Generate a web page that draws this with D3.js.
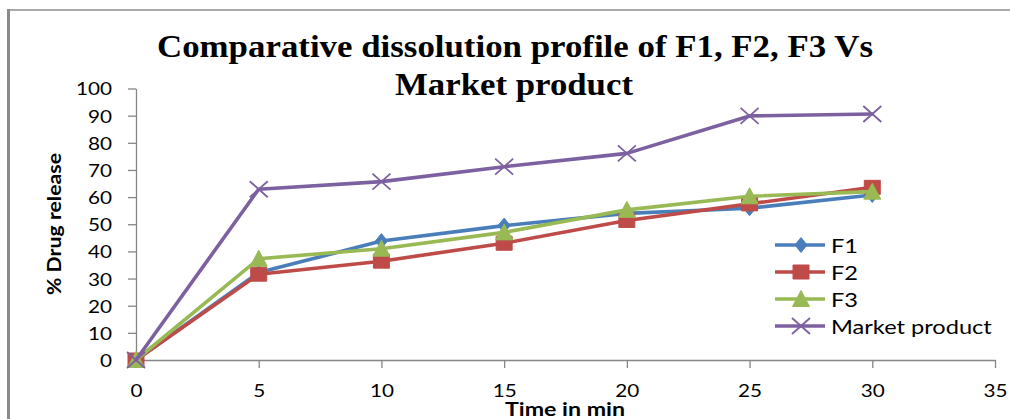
<!DOCTYPE html>
<html>
<head>
<meta charset="utf-8">
<script src="https://cdn.jsdelivr.net/npm/d3@7"></script>
<style>
  html, body { margin: 0; padding: 0; background: #fff; }
  svg { display: block; }
</style>
</head>
<body>
<svg id="chart" width="1010" height="419"></svg>
<script>
// Dissolution time points (min)
const times = [0, 5, 10, 15, 20, 25, 30];

// % drug release per formulation
const f1 = [0, 32.2, 43.8, 49.5, 54.0, 55.9, 60.8];
const f2 = [0, 31.6, 36.4, 43.0, 51.4, 57.5, 63.6];
const f3 = [0, 37.3, 41.0, 47.0, 55.3, 60.3, 62.0];
const market = [0, 62.9, 65.7, 71.2, 76.1, 89.9, 90.6];

const seriesNames = ["F1", "F2", "F3", "Market product"];
const xTicks = [0, 5, 10, 15, 20, 25, 30, 35];
const yTicks = [0, 10, 20, 30, 40, 50, 60, 70, 80, 90, 100];

const titleLines = ["Comparative dissolution profile of F1, F2, F3 Vs", "Market product"];
const xTitle = "Time in min";
const yTitle = "% Drug release";

const series = [
  { name: seriesNames[0], values: f1, color: "#4a7ebb", marker: "diamond" },
  { name: seriesNames[1], values: f2, color: "#be4b48", marker: "square" },
  { name: seriesNames[2], values: f3, color: "#98b954", marker: "triangle" },
  { name: seriesNames[3], values: market, color: "#7d60a0", marker: "cross" }
];

const svg = d3.select("#chart");
const axisColor = "#868686";
const sans = "Lato, 'Open Sans', sans-serif";

// frame of the chart area
svg.append("line").attr("x1", 8).attr("x2", 1010).attr("y1", 10).attr("y2", 10)
  .attr("stroke", "#8e8e8e").attr("stroke-width", 1.6);
svg.append("line").attr("x1", 8.5).attr("x2", 8.5).attr("y1", 9).attr("y2", 419)
  .attr("stroke", "#8a8a8a").attr("stroke-width", 3);

const x = d3.scaleLinear().domain([0, 35]).range([136, 995]);
const y = d3.scaleLinear().domain([0, 100]).range([360, 88.5]);

// title
const titleSpec = [
  { text: titleLines[0], x: 157, y: 57, len: 716 },
  { text: titleLines[1], x: 395, y: 95, len: 238 }
];
svg.selectAll("text.title").data(titleSpec).join("text")
  .attr("class", "title")
  .attr("x", d => d.x).attr("y", d => d.y)
  .attr("textLength", d => d.len).attr("lengthAdjust", "spacingAndGlyphs")
  .attr("font-family", "'Liberation Serif', 'Times New Roman', serif")
  .attr("font-weight", "bold").attr("font-size", 31)
  .attr("fill", "#000")
  .text(d => d.text);

// axes
const yAxis = d3.axisLeft(y).tickValues(yTicks).tickSize(8).tickSizeOuter(0).tickPadding(0);
const gy = svg.append("g").attr("transform", "translate(136,0)").call(yAxis);
const xAxis = d3.axisBottom(x).tickValues(xTicks).tickSize(8).tickSizeOuter(0).tickPadding(0);
const gx = svg.append("g").attr("transform", "translate(0,360)").call(xAxis);

[gx, gy].forEach(g => {
  g.select(".domain").attr("stroke", axisColor).attr("stroke-width", 1.3);
  g.selectAll(".tick line").attr("stroke", axisColor).attr("stroke-width", 1.3);
  g.selectAll(".tick text")
    .attr("font-family", sans).attr("font-size", 18).attr("fill", "#000");
});
gy.selectAll(".tick text")
  .attr("x", -24 / 1.15).attr("dy", "0.36em")
  .attr("transform", "scale(1.15,1)");
gx.selectAll(".tick text")
  .attr("x", 0).attr("y", 37).attr("dy", 0)
  .attr("transform", "scale(1.15,1)");

// axis titles
svg.append("text")
  .attr("x", 565).attr("y", 416)
  .attr("text-anchor", "middle")
  .attr("textLength", 120).attr("lengthAdjust", "spacingAndGlyphs")
  .attr("font-family", sans).attr("font-weight", "bold").attr("font-size", 18)
  .text(xTitle);
svg.append("text")
  .attr("transform", "translate(61,224) rotate(-90)")
  .attr("text-anchor", "middle")
  .attr("textLength", 142).attr("lengthAdjust", "spacingAndGlyphs")
  .attr("font-family", sans).attr("font-weight", "bold").attr("font-size", 18)
  .text(yTitle);

// marker shapes, centred at the origin
function markerPath(type) {
  switch (type) {
    case "diamond": return "M0,-7.5L6,0L0,7.5L-6,0Z";
    case "square": return "M-8,-7H8V7H-8Z";
    case "triangle": return "M0,-8.5L8.5,7.5H-8.5Z";
    case "cross": return "M-9,-8L9,8M-9,8L9,-8";
  }
}
function drawMarker(g, type, color) {
  const p = g.append("path").attr("d", markerPath(type));
  if (type === "cross") {
    p.attr("fill", "none").attr("stroke", color).attr("stroke-width", 1.8);
  } else {
    p.attr("fill", color).attr("stroke", color).attr("stroke-width", 1);
  }
}

const line = d3.line().x((d, i) => x(times[i])).y(d => y(d));
const plot = svg.append("g");

series.forEach(s => {
  const g = plot.append("g");
  g.append("path")
    .attr("d", line(s.values))
    .attr("fill", "none")
    .attr("stroke", s.color)
    .attr("stroke-width", 3.6)
    .attr("stroke-linejoin", "round")
    .attr("stroke-linecap", "round");
  s.values.forEach((v, i) => {
    const m = g.append("g").attr("transform", `translate(${x(times[i])},${y(v)})`);
    drawMarker(m, s.marker, s.color);
  });
});

// legend
const legend = svg.append("g").attr("transform", "translate(775,245)");
series.forEach((s, i) => {
  const row = legend.append("g").attr("transform", `translate(0,${i * 27})`);
  row.append("line").attr("x1", 0).attr("x2", 50).attr("y1", 0).attr("y2", 0)
    .attr("stroke", s.color).attr("stroke-width", 3.6);
  const m = row.append("g").attr("transform", "translate(26,0)");
  drawMarker(m, s.marker, s.color);
  row.append("text")
    .attr("x", 56 / 1.18).attr("y", 7.5)
    .attr("transform", "scale(1.18,1)")
    .attr("font-family", sans).attr("font-size", 20).attr("fill", "#000")
    .text(s.name);
});
</script>
</body>
</html>
